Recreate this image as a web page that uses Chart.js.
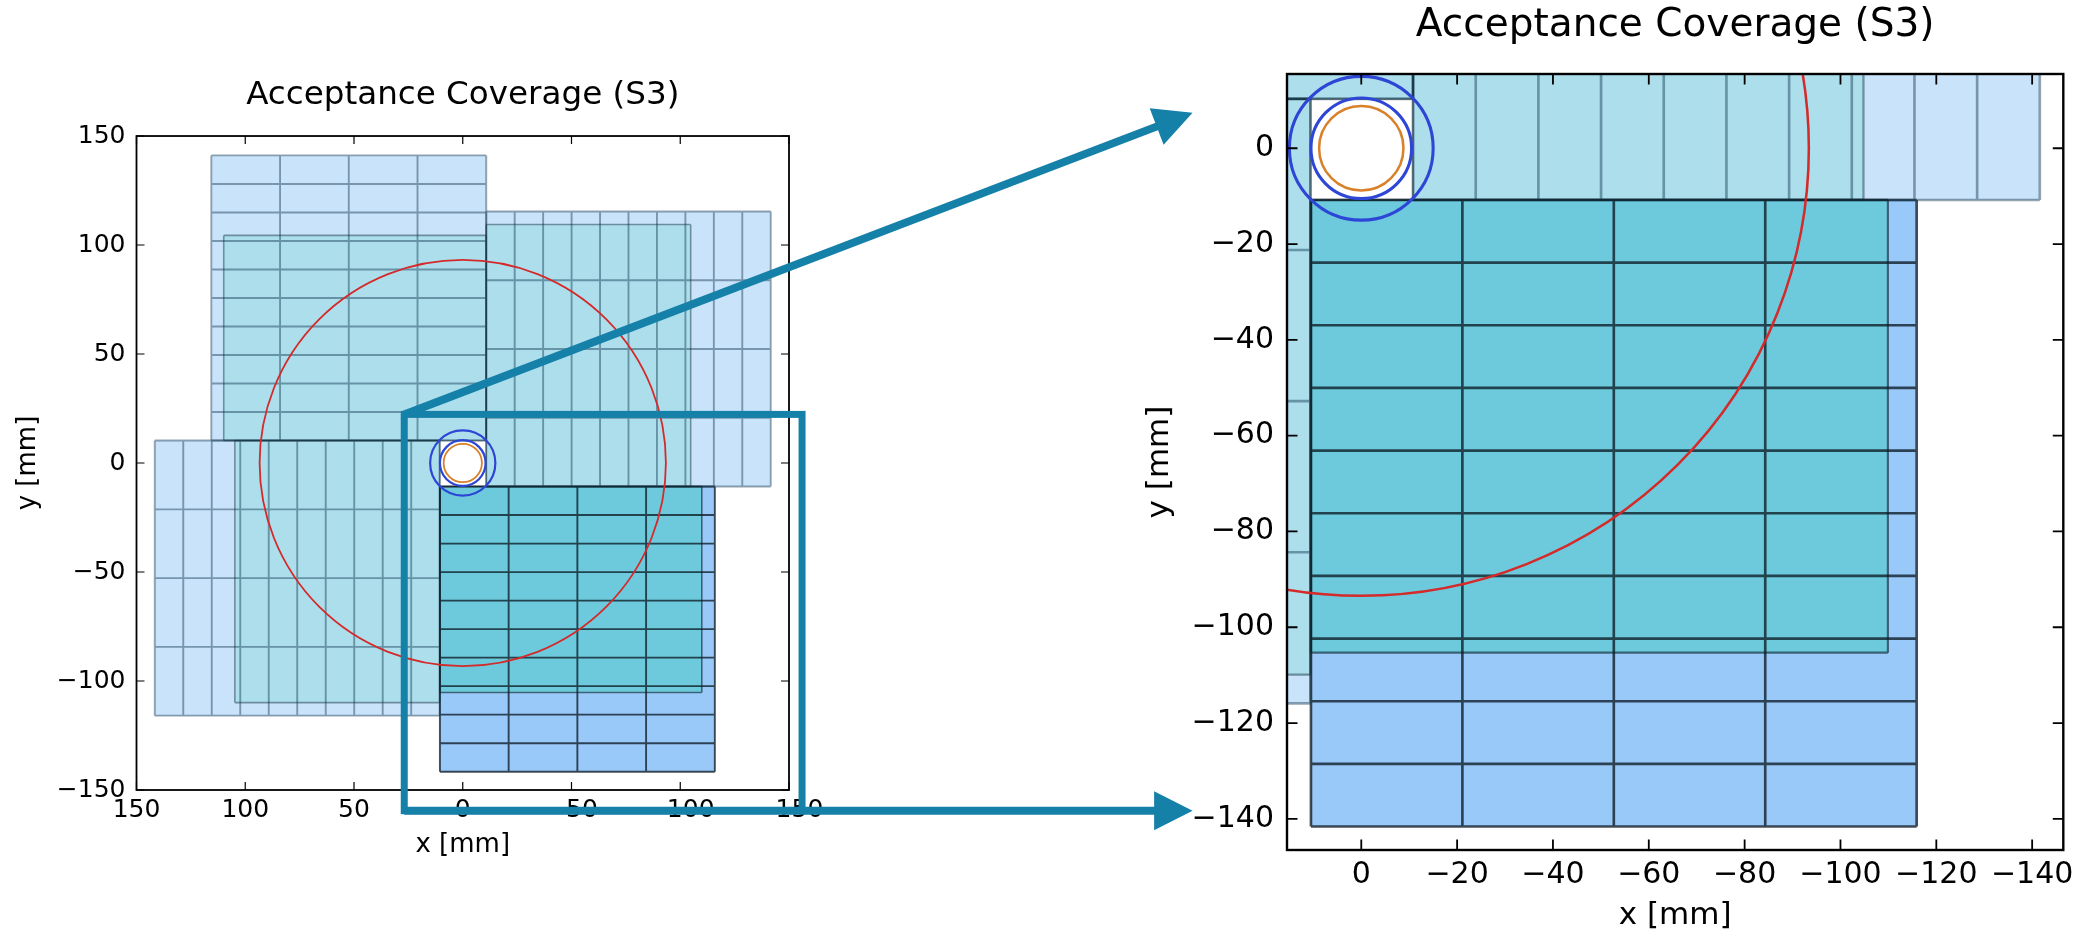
<!DOCTYPE html>
<html>
<head>
<meta charset="utf-8">
<script src="https://cdn.jsdelivr.net/npm/chart.js@4.4.1/dist/chart.umd.min.js"></script>
<style>
  html, body { margin: 0; padding: 0; background: #fff; }
  body { width: 2094px; height: 935px; position: relative; overflow: hidden; }
  canvas { position: absolute; top: 0; }
  #overview { left: 0; }
  #zoomed { left: 1000px; }
  #overlay { left: 0; pointer-events: none; }
</style>
</head>
<body>
<canvas id="overview" width="1000" height="935"></canvas>
<canvas id="zoomed" width="1094" height="935"></canvas>
<canvas id="overlay" width="2094" height="935"></canvas>
<script>
const FONT = "'DejaVu Sans', 'Liberation Sans', sans-serif";
const chartTitle = 'Acceptance Coverage (S3)';
const xAxisTitle = 'x [mm]';
const yAxisTitle = 'y [mm]';

// detector modules (mm), one entry per quadrant
const moduleNames = ['Q1', 'Q2', 'Q4', 'Q3'];
const outerXMin = [-10.8, -141.6, 10.6, -115.9];
const outerXMax = [115.6, -10.8, 141.6, 10.5];
const outerYMin = [10.3, -10.8, -115.9, -141.6];
const outerYMax = [141.1, 115.4, 10.3, -10.8];
const outerCols = [4, 10, 10, 4];
const outerRows = [10, 4, 4, 10];
const innerXMin = [-10.8, -104.8, 10.6, -109.9];
const innerXMax = [109.9, -10.8, 104.8, 10.5];
const innerYMin = [10.3, -10.8, -109.9, -105.3];
const innerYMax = [104.4, 109.4, 10.3, -10.8];

// acceptance circles (mm)
const circleNames = ['acceptance', 'outer beam pipe', 'inner beam pipe', 'beam'];
const circleRadius = [93.4, 15.0, 10.5, 8.8];

// axes
const overviewRange = [-150, 150];
const overviewTicks = [-150, -100, -50, 0, 50, 100, 150];
const zoomRange = [-146.5, 15.5];
const zoomTicks = [-140, -120, -100, -80, -60, -40, -20, 0];

// styles
const outerFill = ['rgba(28,140,235,0.24)', 'rgba(28,140,235,0.24)', 'rgba(28,140,235,0.24)', 'rgba(51,147,243,0.5)'];
const innerFill = ['rgba(107,210,203,0.3)', 'rgba(107,210,203,0.3)', 'rgba(107,210,203,0.3)', 'rgba(65,203,193,0.5)'];
const outerEdge = ['rgba(20,55,80,0.45)', 'rgba(20,55,80,0.45)', 'rgba(20,55,80,0.45)', 'rgba(10,20,30,0.75)'];
const innerEdge = ['rgba(10,40,50,0.45)', 'rgba(10,40,50,0.45)', 'rgba(10,40,50,0.45)', 'rgba(10,30,40,0.6)'];
const circleColor = ['#d42a2a', '#2e46d6', '#2e46d6', '#d9812a'];
const circleWidth = [1.8, 2.2, 2.2, 1.8];
const CALLOUT = '#1580a8';

// zoom callout: box in overview mm, arrow tip in zoomed mm
const calloutBoxX = [26.9, -156];
const calloutBoxY = [22.3, -159.5];
const calloutTipX = 35.2;
const calloutTipY = 7.4;

const fmt = v => (v < 0 ? '\u2212' + Math.abs(v) : String(v));

function rectFill(x0, x1, y0, y1, color) {
    return {
        data: [{x: x0, y: y1}, {x: x1, y: y1}],
        showLine: true,
        fill: {value: y0},
        backgroundColor: color,
        borderColor: 'rgba(0,0,0,0)',
        borderWidth: 0,
        pointRadius: 0,
        clip: 0
    };
}

function gridPoints(x0, x1, y0, y1, cols, rows) {
    const pts = [];
    for (let i = 0; i <= cols; i++) {
        const x = x0 + (x1 - x0) * i / cols;
        pts.push({x, y: y0}, {x, y: y1}, {x, y: null});
    }
    for (let j = 0; j <= rows; j++) {
        const y = y0 + (y1 - y0) * j / rows;
        pts.push({x: x0, y}, {x: x1, y}, {x: x1, y: null});
    }
    return pts;
}

function lines(pts, color, width) {
    return {data: pts, showLine: true, fill: false, borderColor: color, borderWidth: width, pointRadius: 0, clip: 0};
}

function circle(r, color, width) {
    const rad = ctx => {
        const s = ctx.chart.scales.x;
        return Math.abs(s.getPixelForValue(r) - s.getPixelForValue(0));
    };
    return {
        data: [{x: 0, y: 0}],
        showLine: false,
        pointRadius: rad,
        pointHoverRadius: rad,
        pointBorderWidth: width,
        pointBorderColor: color,
        pointBackgroundColor: 'rgba(0,0,0,0)',
        clip: 0
    };
}

function buildDatasets(k) {
    const sets = [];
    moduleNames.forEach((name, i) => {
        sets.push(Object.assign(rectFill(outerXMin[i], outerXMax[i], outerYMin[i], outerYMax[i], outerFill[i]), {label: name, order: 5}));
        sets.push(Object.assign(rectFill(innerXMin[i], innerXMax[i], innerYMin[i], innerYMax[i], innerFill[i]), {label: name + ' inner', order: 4}));
        sets.push(Object.assign(lines(gridPoints(outerXMin[i], outerXMax[i], outerYMin[i], outerYMax[i], outerCols[i], outerRows[i]), outerEdge[i], 1.9 * k), {order: 3}));
        sets.push(Object.assign(lines(gridPoints(innerXMin[i], innerXMax[i], innerYMin[i], innerYMax[i], 1, 1), innerEdge[i], 1.6 * k), {order: 2}));
    });
    circleRadius.forEach((r, i) => {
        sets.push(Object.assign(circle(r, circleColor[i], circleWidth[i] * k), {label: circleNames[i], order: 1}));
    });
    return sets;
}

// inward ticks on all four sides plus the box frame
const frameTicks = {
    id: 'frameTicks',
    afterDatasetsDraw(chart, args, opts) {
        const {ctx, chartArea: a, scales: {x, y}} = chart;
        ctx.save();
        ctx.strokeStyle = '#000';
        ctx.lineWidth = opts.tickWidth;
        ctx.beginPath();
        x.ticks.forEach(t => {
            const px = x.getPixelForValue(t.value);
            ctx.moveTo(px, a.bottom); ctx.lineTo(px, a.bottom - opts.tickLen);
            ctx.moveTo(px, a.top); ctx.lineTo(px, a.top + opts.tickLen);
        });
        y.ticks.forEach(t => {
            const py = y.getPixelForValue(t.value);
            ctx.moveTo(a.left, py); ctx.lineTo(a.left + opts.tickLen, py);
            ctx.moveTo(a.right, py); ctx.lineTo(a.right - opts.tickLen, py);
        });
        ctx.stroke();
        ctx.lineWidth = opts.frameWidth;
        ctx.strokeRect(a.left, a.top, a.right - a.left, a.bottom - a.top);
        ctx.restore();
    }
};

function chartOptions(c) {
    const tickFont = {family: FONT, size: c.tickSize};
    const labelFont = {family: FONT, size: c.labelSize};
    const axis = (horizontal) => ({
        type: 'linear',
        position: horizontal ? 'bottom' : 'left',
        min: c.range[0],
        max: c.range[1],
        reverse: horizontal,
        grid: {display: false, drawTicks: false},
        border: {display: false},
        afterBuildTicks: s => { s.ticks = c.ticks.map(v => ({value: v})); },
        afterFit: s => { if (horizontal) s.height = c.xHeight; else s.width = c.yWidth; },
        ticks: {font: tickFont, color: '#000', padding: horizontal ? c.xTickPad : c.yTickPad, maxRotation: 0, autoSkip: false, includeBounds: false, callback: fmt},
        title: {
            display: true,
            text: horizontal ? xAxisTitle : yAxisTitle,
            color: '#000',
            font: labelFont,
            padding: horizontal ? {top: 0, bottom: c.xTitlePad} : {top: c.yTitlePad, bottom: 0}
        }
    });
    return {
        responsive: false,
        animation: false,
        events: [],
        layout: {padding: c.padding},
        elements: {point: {radius: 0, hoverRadius: 0}},
        plugins: {
            legend: {display: false},
            tooltip: {enabled: false},
            title: {
                display: true,
                text: chartTitle,
                fullSize: false,
                color: '#000',
                font: {family: FONT, size: c.titleSize, weight: 'normal'},
                padding: c.titlePad
            },
            frameTicks: {tickLen: c.tickLen, tickWidth: c.tickWidth, frameWidth: c.frameWidth}
        },
        scales: {x: axis(true), y: axis(false)}
    };
}

const overviewLayout = {
    range: overviewRange, ticks: overviewTicks,
    padding: {left: 0, right: 211, top: 0, bottom: 65},
    yWidth: 136.5, xHeight: 80,
    titleSize: 32.6, titlePad: {top: 75.9, bottom: 21},
    tickSize: 25, labelSize: 26, xTickPad: 5, yTickPad: 11, xTitlePad: 9.4, yTitlePad: 12.2,
    tickLen: 8, tickWidth: 1.2, frameWidth: 1.8, lineScale: 1
};
const zoomLayout = {
    range: zoomRange, ticks: zoomTicks,
    padding: {left: 0, right: 30.7, top: 0, bottom: 0},
    yWidth: 287, xHeight: 85,
    titleSize: 39, titlePad: {top: 2.6, bottom: 24.6},
    tickSize: 30, labelSize: 31, xTickPad: 7, yTickPad: 13, xTitlePad: 0, yTitlePad: 141.4,
    tickLen: 10.5, tickWidth: 1.8, frameWidth: 2.4, lineScale: 1.4
};

Chart.defaults.font.family = FONT;

const overview = new Chart(document.getElementById('overview').getContext('2d'), {
    type: 'scatter',
    data: {datasets: buildDatasets(overviewLayout.lineScale)},
    options: chartOptions(overviewLayout),
    plugins: [frameTicks]
});

const zoomed = new Chart(document.getElementById('zoomed').getContext('2d'), {
    type: 'scatter',
    data: {datasets: buildDatasets(zoomLayout.lineScale)},
    options: chartOptions(zoomLayout),
    plugins: [frameTicks]
});

function arrow(ctx, x0, y0, x1, y1) {
    const len = Math.hypot(x1 - x0, y1 - y0);
    const ux = (x1 - x0) / len, uy = (y1 - y0) / len;
    const headLen = 38.5, headHalf = 19.5;
    const bx = x1 - ux * headLen, by = y1 - uy * headLen;
    ctx.lineWidth = 8;
    ctx.lineCap = 'butt';
    ctx.beginPath();
    ctx.moveTo(x0, y0);
    ctx.lineTo(bx + ux * 4, by + uy * 4);
    ctx.stroke();
    ctx.beginPath();
    ctx.moveTo(x1, y1);
    ctx.lineTo(bx - uy * headHalf, by + ux * headHalf);
    ctx.lineTo(bx + uy * headHalf, by - ux * headHalf);
    ctx.closePath();
    ctx.fill();
}

function drawCallout() {
    const ctx = document.getElementById('overlay').getContext('2d');
    const offsetX = document.getElementById('zoomed').offsetLeft;
    const lx = overview.scales.x, ly = overview.scales.y;
    const left = lx.getPixelForValue(calloutBoxX[0]);
    const right = lx.getPixelForValue(calloutBoxX[1]);
    const top = ly.getPixelForValue(calloutBoxY[0]);
    const bottom = ly.getPixelForValue(calloutBoxY[1]);
    const tipX = offsetX + zoomed.scales.x.getPixelForValue(calloutTipX);
    const tipY = zoomed.scales.y.getPixelForValue(calloutTipY);
    ctx.strokeStyle = CALLOUT;
    ctx.fillStyle = CALLOUT;
    ctx.lineJoin = 'miter';
    ctx.lineWidth = 7;
    ctx.strokeRect(left, top, right - left, bottom - top);
    arrow(ctx, left, top, tipX, tipY);
    arrow(ctx, left, bottom, tipX, bottom);
}

drawCallout();
</script>
</body>
</html>
